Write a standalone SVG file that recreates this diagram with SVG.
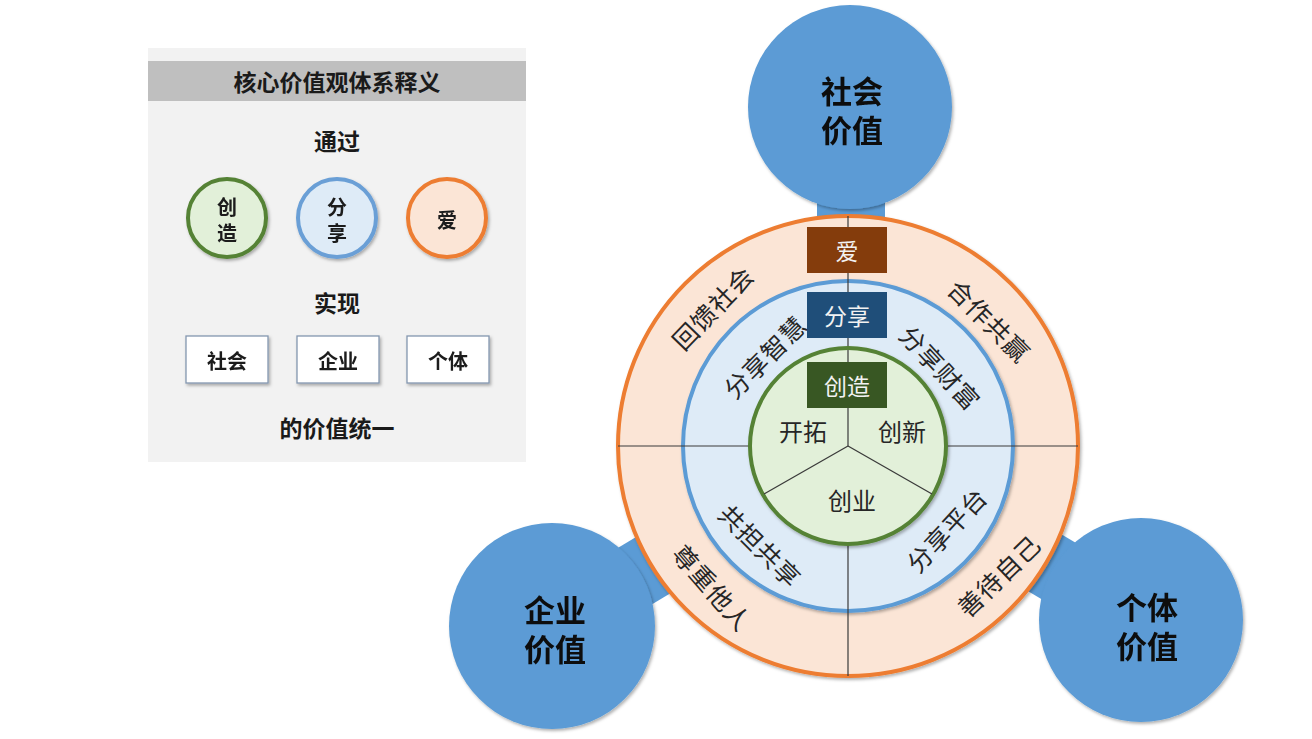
<svg xmlns="http://www.w3.org/2000/svg" width="1312" height="739" viewBox="0 0 1312 739">
<defs>
<filter id="sh" x="-20%" y="-20%" width="140%" height="140%">
<feDropShadow dx="1.5" dy="2" stdDeviation="1.8" flood-color="#000" flood-opacity="0.3"/>
</filter>
<style>
text{font-family:"Noto Sans CJK SC","Noto Sans",sans-serif;text-anchor:middle;dominant-baseline:central;}
.pb{font-weight:bold;font-size:23px;fill:#1a1a1a;}
.pc{font-weight:bold;font-size:20px;fill:#1a1a1a;}
.big{font-weight:bold;font-size:31px;fill:#0d0d0d;}
.lab{font-size:25px;fill:#262626;letter-spacing:1px;}
.in{font-size:24px;fill:#262626;}
.box{font-size:23px;fill:#f2f2f2;}
.div{stroke:#3a3a3a;stroke-width:1.2;fill:none;}
.val{fill:#5B9BD5;}
</style>
</defs>
<rect width="1312" height="739" fill="#ffffff"/>

<g id="panel">
<rect x="148" y="48" width="378" height="414" fill="#F2F2F2"/>
<rect x="148" y="61" width="378" height="40" fill="#BFBFBF"/>
<text class="pb" x="337" y="81">核心价值观体系释义</text>
<text class="pb" x="337" y="140">通过</text>
<g id="p-create" filter="url(#sh)">
<circle cx="227" cy="218" r="39" fill="#E2F0D9" stroke="#548235" stroke-width="4"/>
<text class="pc" x="227" y="206"><tspan x="227" y="206">创</tspan><tspan x="227" y="232">造</tspan></text>
</g>
<g id="p-share" filter="url(#sh)">
<circle cx="337" cy="218" r="39" fill="#DEEBF7" stroke="#6A9FD6" stroke-width="4"/>
<text class="pc" x="337" y="206"><tspan x="337" y="206">分</tspan><tspan x="337" y="232">享</tspan></text>
</g>
<g id="p-love" filter="url(#sh)">
<circle cx="447" cy="218" r="39" fill="#FBE5D6" stroke="#ED7D31" stroke-width="4"/>
<text class="pc" x="447" y="219">爱</text>
</g>
<text class="pb" x="337" y="302">实现</text>
<g id="p-society" filter="url(#sh)">
<rect x="186" y="336" width="82" height="47" fill="#ffffff" stroke="#8497B0" stroke-width="1.3"/>
<text class="pc" x="227" y="360">社会</text>
</g>
<g id="p-enterprise" filter="url(#sh)">
<rect x="297" y="336" width="82" height="47" fill="#ffffff" stroke="#8497B0" stroke-width="1.3"/>
<text class="pc" x="338" y="360">企业</text>
</g>
<g id="p-individual" filter="url(#sh)">
<rect x="407" y="336" width="82" height="47" fill="#ffffff" stroke="#8497B0" stroke-width="1.3"/>
<text class="pc" x="448" y="360">个体</text>
</g>
<text class="pb" x="337" y="427">的价值统一</text>
</g>

<g id="connectors">
<line x1="851" y1="107" x2="851" y2="300" stroke="#5B9BD5" stroke-width="68"/>
<line x1="552" y1="626" x2="750" y2="507" stroke="#5B9BD5" stroke-width="66"/>
<line x1="1141" y1="620" x2="946" y2="504" stroke="#5B9BD5" stroke-width="66"/>
</g>

<g id="social-value" filter="url(#sh)">
<circle class="val" cx="850" cy="107" r="102"/>
<text class="big" x="852" y="89"><tspan x="852" y="89">社会</tspan><tspan x="852" y="128">价值</tspan></text>
</g>
<g id="enterprise-value" filter="url(#sh)">
<circle class="val" cx="552" cy="626" r="103"/>
<text class="big" x="555" y="608"><tspan x="555" y="608">企业</tspan><tspan x="555" y="647">价值</tspan></text>
</g>
<g id="individual-value" filter="url(#sh)">
<circle class="val" cx="1141" cy="620" r="102"/>
<text class="big" x="1147" y="605"><tspan x="1147" y="605">个体</tspan><tspan x="1147" y="644">价值</tspan></text>
</g>

<g id="love-ring">
<circle cx="848" cy="446" r="230" fill="#FBE5D6" stroke="#ED7D31" stroke-width="4" filter="url(#sh)"/>
</g>
<g id="share-ring">
<circle cx="848" cy="446" r="165" fill="#DEEBF7" stroke="#5B9BD5" stroke-width="4" filter="url(#sh)"/>
</g>
<g id="dividers">
<line class="div" x1="618" y1="446" x2="1078" y2="446"/>
<line class="div" x1="848" y1="216" x2="848" y2="676"/>
</g>
<g id="create-core">
<circle cx="848" cy="446" r="98" fill="#E2F0D9" stroke="#548235" stroke-width="4" filter="url(#sh)"/>
<line class="div" x1="848" y1="350" x2="848" y2="446"/>
<line class="div" x1="848" y1="446" x2="764" y2="494"/>
<line class="div" x1="848" y1="446" x2="932" y2="494"/>
<text class="in" x="803" y="430">开拓</text>
<text class="in" x="902" y="430">创新</text>
<text class="in" x="852" y="499">创业</text>
</g>

<g id="box-love">
<rect x="807" y="227" width="80" height="46" fill="#843C0C"/>
<text class="box" x="847" y="250">爱</text>
</g>
<g id="box-share">
<rect x="807" y="292" width="80" height="46" fill="#1F4E79"/>
<text class="box" x="847" y="315">分享</text>
</g>
<g id="box-create">
<rect x="807" y="362" width="80" height="46" fill="#385723"/>
<text class="box" x="847" y="385">创造</text>
</g>

<g id="ring-labels">
<text class="lab" transform="translate(712,307) rotate(-46)">回馈社会</text>
<text class="lab" transform="translate(990,320) rotate(45)">合作共赢</text>
<text class="lab" transform="translate(713,587) rotate(49)">尊重他人</text>
<text class="lab" transform="translate(998,575) rotate(-44)">善待自己</text>
<text class="lab" transform="translate(764,356) rotate(-45)">分享智慧</text>
<text class="lab" transform="translate(941,367) rotate(47)">分享财富</text>
<text class="lab" transform="translate(761,545) rotate(45)">共担共享</text>
<text class="lab" transform="translate(946,529) rotate(-47)">分享平台</text>
</g>
</svg>
